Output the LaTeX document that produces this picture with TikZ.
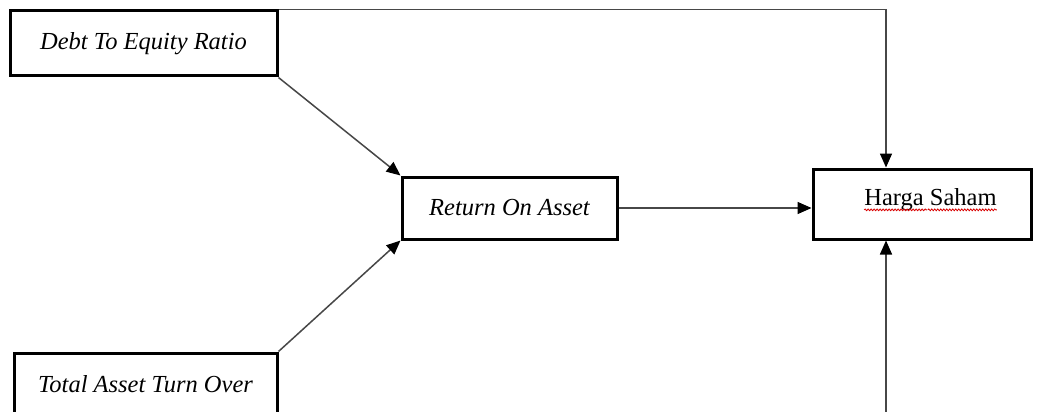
\documentclass[tikz,border=0pt]{standalone}
\usepackage{fontspec}
\setmainfont{Liberation Serif}
\usetikzlibrary{arrows.meta,decorations.pathmorphing,calc}
\begin{document}
\begin{tikzpicture}[x=1pt,y=-1pt,
  box/.style={draw=black,line width=3pt,fill=white,inner sep=0pt,
    font=\fontsize{24.5}{29}\selectfont},
  link/.style={draw=black!72,line width=1.5pt},
  arrow/.style={link,-{Triangle[length=14pt,width=12pt,color=black]}},
  squiggle/.style={draw=red!85!black,line width=0.8pt,decorate,
    decoration={snake,amplitude=0.9pt,segment length=3pt}}]
\clip (0,0) rectangle (1042,412);
\fill[white] (0,0) rectangle (1042,412);

% variable boxes
\node[box,minimum width=267pt,minimum height=65pt] (der) at (143.5,43.5)
  {\itshape Debt To Equity Ratio};
\node[box,minimum width=263pt,minimum height=62pt] (tato) at (145.5,384)
  {\itshape Total Asset Turn Over};
\node[box,minimum width=215pt,minimum height=62pt] (roa) at (509.5,208)
  {\itshape Return On Asset};
\node[box,minimum width=218pt,minimum height=70pt] (hs) at (922,204) {};
\node[font=\fontsize{24.5}{29}\selectfont,inner sep=0pt] (hstext) at (930.5,200)
  {Harga Saham};

% spell-check marks under the dependent variable
\draw[squiggle] ($(hstext.base west)+(0,4)$) -- ++(63,0);
\draw[squiggle] ($(hstext.base east)+(-69,4)$) -- ++(69,0);

% relations
\coordinate (hstop) at ([xshift=-36pt]hs.north);
\coordinate (hsbot) at ([xshift=-36pt]hs.south);
\coordinate (floor) at (hsbot |- 0,420);
\draw[arrow] (der.north east) -| (hstop);
\draw[arrow] (der.south east) -- (roa.north west);
\draw[arrow] (tato.north east) -- (roa.south west);
\draw[arrow] (roa.east) -- (roa.east -| hs.west);
\draw[arrow] (floor) -- (hsbot);
\end{tikzpicture}
\end{document}
